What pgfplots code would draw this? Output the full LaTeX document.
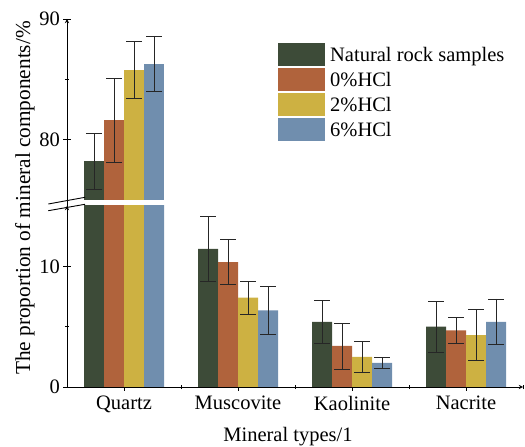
\documentclass[border=0pt]{standalone}
\usepackage{pgfplots}
\pgfplotsset{compat=1.18}
\usepackage{fontspec}
\setmainfont{Liberation Serif}
\newcommand\fs{\fontsize{20.5bp}{24bp}\selectfont}
\newcommand\fsl{\fontsize{21.3bp}{25bp}\selectfont}
\definecolor{cg}{RGB}{61,75,56}
\definecolor{co}{RGB}{176,99,60}
\definecolor{cy}{RGB}{205,177,66}
\definecolor{cb}{RGB}{112,142,174}
\pgfplotstableread{
x y e
0 78.2 2.3
1 11.45 2.7
2 5.4 1.8
3 5.0 2.1
}\natural
\pgfplotstableread{
x y e
0 81.6 3.5
1 10.35 1.85
2 3.4 1.9
3 4.7 1.1
}\hcla
\pgfplotstableread{
x y e
0 85.8 2.35
1 7.4 1.35
2 2.5 1.25
3 4.3 2.1
}\hclb
\pgfplotstableread{
x y e
0 86.3 2.3
1 6.35 2.0
2 2.0 0.45
3 5.4 1.9
}\hclc
\pgfplotsset{
  common/.style={
    width=456bp, height=181bp, scale only axis,
    xmin=-0.5, xmax=3.5,
    ybar=0pt, bar width=20bp,
    tick align=inside,
    major tick length=7bp, minor tick length=4bp,
    every tick/.style={black, line width=0.8bp},
    axis line style={-, line width=0.9bp, black},
    tick label style={font=\fs},
    /pgf/number format/assume math mode=true,
    label style={font=\fs},
  },
  eb/.style={
    error bars/.cd, y dir=both, y explicit,
    error bar style={black!85, line width=0.7bp},
    error mark options={rotate=90, mark size=8bp, black!85, line width=0.7bp},
  },
}
\begin{document}
\begin{tikzpicture}
\useasboundingbox (0,0) rectangle (525bp,447bp);
% lower axis
\begin{axis}[common,
  at={(67bp,60bp)}, anchor=south west,
  ymin=0, ymax=15,
  axis x line=bottom, axis y line=left,
  xtick={0,1,2,3}, xticklabels={Quartz,Muscovite,Kaolinite,Nacrite},
  xticklabel style={yshift=-2bp},
  minor xtick={0.5,1.5,2.5,3.5},
  ytick={0,10}, minor ytick={5},
  xlabel={Mineral types/1},
  xlabel style={yshift=-8bp, xshift=-7bp},
]
\addplot[fill=cg, draw=none, bar shift=-30bp, eb] table[x=x, y=y, y error=e] {\natural};
\addplot[fill=co, draw=none, bar shift=-10bp, eb] table[x=x, y=y, y error=e] {\hcla};
\addplot[fill=cy, draw=none, bar shift=10bp, eb] table[x=x, y=y, y error=e] {\hclb};
\addplot[fill=cb, draw=none, bar shift=30bp, eb] table[x=x, y=y, y error=e] {\hclc};
\end{axis}
% upper axis
\begin{axis}[common,
  at={(67bp,247bp)}, anchor=south west,
  ymin=75, ymax=90,
  axis x line=none, axis y line=left,
  ytick={80,90}, minor ytick={85},
  legend style={at={(rel axis cs:0.4627,0.867)}, anchor=north west,
    draw=none, fill=none, inner sep=0pt, row sep=2bp, font=\fs,
    nodes={inner sep=0pt},
    /tikz/every odd column/.append style={column sep=5bp}},
  legend cell align=left,
  legend image code/.code={\fill[#1, draw=none] (0bp,-11.5bp) rectangle (47bp,11.5bp);},
]
\addplot[restrict x to domain=-0.5:0.5, fill=cg, draw=none, bar shift=-30bp, eb] table[x=x, y=y, y error=e] {\natural};
\addplot[restrict x to domain=-0.5:0.5, fill=co, draw=none, bar shift=-10bp, eb] table[x=x, y=y, y error=e] {\hcla};
\addplot[restrict x to domain=-0.5:0.5, fill=cy, draw=none, bar shift=10bp, eb] table[x=x, y=y, y error=e] {\hclb};
\addplot[restrict x to domain=-0.5:0.5, fill=cb, draw=none, bar shift=30bp, eb] table[x=x, y=y, y error=e] {\hclc};
\legend{Natural rock samples, 0\%HCl, 2\%HCl, 6\%HCl}
\end{axis}
% axis line through the break
\draw[line width=0.9bp] (67bp,240bp) -- (67bp,248bp);
% break marks
\draw[line width=0.9bp] (48.3bp,243bp) -- (85bp,249.7bp);
\draw[line width=0.9bp] (48.3bp,236.3bp) -- (85bp,242.7bp);
% y label
\node[rotate=90, font=\fsl] at (25bp,249bp) {The proportion of mineral components/\%};
\end{tikzpicture}
\end{document}
